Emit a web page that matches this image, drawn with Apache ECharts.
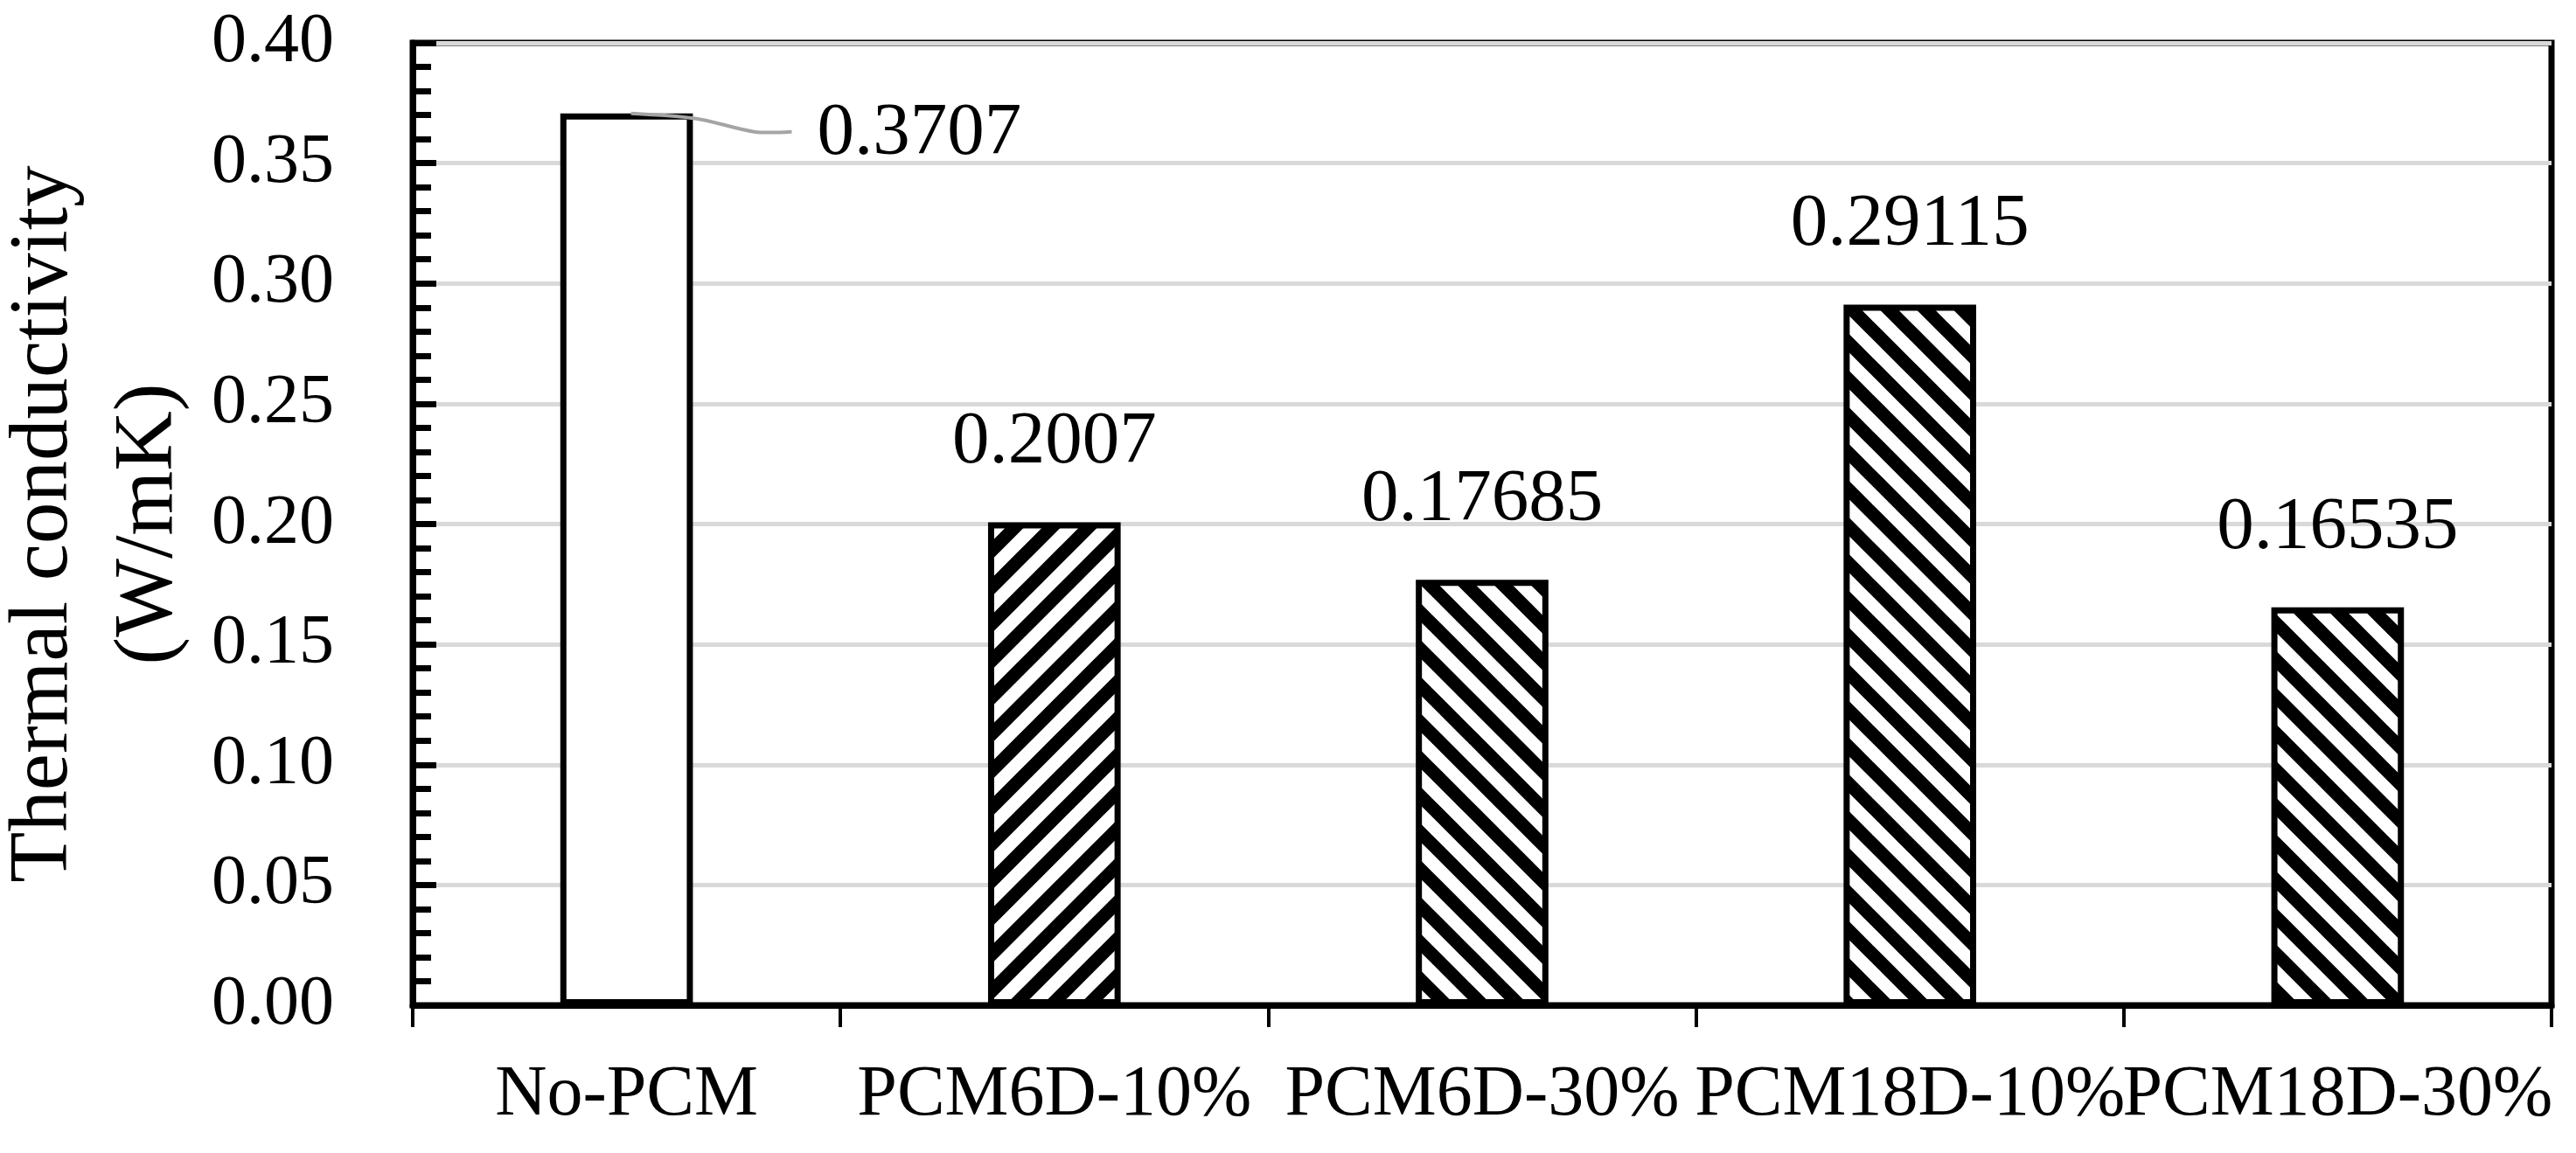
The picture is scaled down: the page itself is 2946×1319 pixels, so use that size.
<!DOCTYPE html>
<html>
<head>
<meta charset="utf-8">
<title>Thermal conductivity</title>
<script src="https://cdn.jsdelivr.net/npm/echarts@6/dist/echarts.min.js"></script>
<style>
  html, body { margin: 0; padding: 0; background: #fff; }
  #chart { width: 2946px; height: 1319px; }
</style>
</head>
<body>
<div id="chart"></div>
<script>
// data
const categories = ['No-PCM', 'PCM6D-10%', 'PCM6D-30%', 'PCM18D-10%', 'PCM18D-30%'];
const conductivity = [0.3707, 0.2007, 0.17685, 0.29115, 0.16535];
// y axis range
const yMin = 0;
const yMax = 0.4;
const yStep = 0.05;

const FONT = 'Liberation Serif';
const BAR_RATIO = 0.31;

// hatch fill tile, dir 1 = "/" , dir -1 = "\"
function hatch(dir) {
  const s = 42;
  const c = document.createElement('canvas');
  c.width = s;
  c.height = s;
  const ctx = c.getContext('2d');
  ctx.fillStyle = '#fff';
  ctx.fillRect(0, 0, s, s);
  ctx.strokeStyle = '#000';
  ctx.lineWidth = 15;
  ctx.lineCap = 'square';
  for (let k = -1; k <= 1; k++) {
    ctx.beginPath();
    if (dir > 0) {
      ctx.moveTo(k * s - 10, s + 10);
      ctx.lineTo(k * s + s + 10, -10);
    } else {
      ctx.moveTo(k * s - 10, -10);
      ctx.lineTo(k * s + s + 10, s + 10);
    }
    ctx.stroke();
  }
  return { image: c, repeat: 'repeat' };
}

const fwd = hatch(1);
const back = hatch(-1);
// first bar is plain, second "/" and the rest "\"
const fillOf = (i) => (i === 0 ? '#fff' : i === 1 ? fwd : back);

const barData = conductivity.map((v, i) => ({
  value: v,
  itemStyle: { color: fillOf(i) }
}));

const chart = echarts.init(document.getElementById('chart'));

chart.setOption({
  backgroundColor: '#fff',
  animation: false,
  grid: {
    left: 472,
    right: 28,
    top: 49,
    bottom: 169,
    outerBoundsMode: 'none',
    containLabel: false,
    show: true,
    borderColor: '#000',
    borderWidth: 7,
    backgroundColor: 'transparent'
  },
  xAxis: {
    type: 'category',
    data: categories,
    axisLine: { lineStyle: { color: '#000', width: 7 } },
    axisTick: {
      show: true,
      alignWithLabel: false,
      length: 25,
      lineStyle: { color: '#000', width: 4 }
    },
    axisLabel: {
      interval: 0,
      hideOverlap: false,
      margin: 62,
      color: '#000',
      fontFamily: FONT,
      fontSize: 82
    },
    splitLine: { show: false }
  },
  yAxis: {
    type: 'value',
    min: yMin,
    max: yMax,
    interval: yStep,
    name: 'Thermal conductivity\n(W/mK)',
    nameLocation: 'middle',
    nameRotate: 90,
    nameGap: 222,
    nameTextStyle: {
      color: '#000',
      fontFamily: FONT,
      fontSize: 95,
      lineHeight: 120
    },
    axisLine: { show: true, lineStyle: { color: '#000', width: 7 } },
    axisTick: {
      show: true,
      inside: true,
      length: 27,
      lineStyle: { color: '#000', width: 7 }
    },
    minorTick: {
      show: true,
      splitNumber: 5,
      length: 21,
      lineStyle: { color: '#000', width: 7 }
    },
    axisLabel: {
      margin: 90,
      color: '#000',
      fontFamily: FONT,
      fontSize: 80,
      padding: [0, 0, 12, 0],
      formatter: (v) => v.toFixed(2)
    },
    splitLine: { show: true, lineStyle: { color: '#d9d9d9', width: 5 } }
  },
  series: [
    {
      type: 'bar',
      data: barData,
      barWidth: BAR_RATIO * 100 + '%',
      itemStyle: { borderColor: '#000', borderWidth: 7 },
      label: {
        show: true,
        position: 'top',
        distance: 48,
        color: '#000',
        fontFamily: FONT,
        fontSize: 85
      },
      // first label sits to the right of its bar
      labelLayout: function (p) {
        if (p.dataIndex !== 0) return {};
        const r = p.rect;
        return {
          x: r.x + r.width + 142,
          y: r.y + 24,
          align: 'left',
          verticalAlign: 'middle'
        };
      }
    }
  ]
});

// leader line from the first bar top to its label, from the axis scales
const top0 = chart.convertToPixel({ seriesIndex: 0 }, [0, conductivity[0]]);
const next = chart.convertToPixel({ seriesIndex: 0 }, [1, conductivity[0]]);
const halfBar = (next[0] - top0[0]) * BAR_RATIO / 2;
const barRight = top0[0] + halfBar;
chart.setOption({
  graphic: [
    {
      type: 'polyline',
      z: 100,
      shape: {
        points: [
          [top0[0] + 5, top0[1]],
          [barRight + 4, top0[1] + 6],
          [barRight + 70, top0[1] + 21],
          [barRight + 113, top0[1] + 21]
        ],
        smooth: 0.3
      },
      style: { stroke: '#a5a5a5', lineWidth: 4, fill: null }
    }
  ]
});
</script>
</body>
</html>
